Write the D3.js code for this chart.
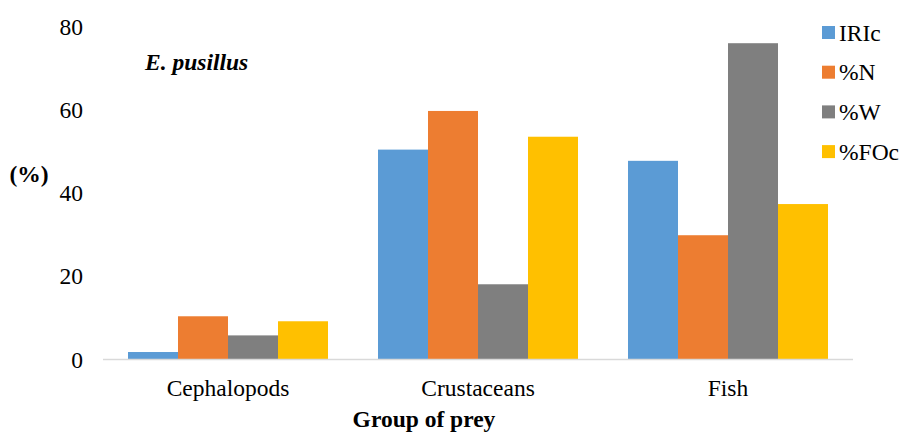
<!DOCTYPE html>
<html>
<head>
<meta charset="utf-8">
<script src="https://cdn.jsdelivr.net/npm/d3@7"></script>
<style>
  html, body { margin: 0; padding: 0; background: #fff; }
  svg { display: block; font-family: "Liberation Serif", "Times New Roman", serif; }
</style>
</head>
<body>
<svg id="chart" width="901" height="432"></svg>
<script>
// Diet composition of E. pusillus by prey group
const categories = ["Cephalopods", "Crustaceans", "Fish"];
const seriesNames = ["IRIc", "%N", "%W", "%FOc"];
const iric = [1.8, 50.5, 47.8];
const pctN = [10.4, 59.8, 29.9];
const pctW = [5.8, 18.1, 76.1];
const pctFOc = [9.2, 53.6, 37.4];
const yTicks = [0, 20, 40, 60, 80];

const seriesValues = [iric, pctN, pctW, pctFOc];
const colors = ["#5B9BD5", "#ED7D31", "#7F7F7F", "#FFC000"];

const svg = d3.select("#chart");
const margin = { left: 103, right: 48, top: 27, bottom: 72.5 };
const W = 901, H = 432;

const x0 = d3.scaleBand().domain(categories).range([margin.left, W - margin.right]).padding(0);
const x1 = d3.scaleBand().domain(seriesNames)
  .range([x0.bandwidth() * 0.1, x0.bandwidth() * 0.9]).padding(0);
const y = d3.scaleLinear().domain([0, 80]).range([H - margin.bottom, margin.top]);

// bars
const groups = svg.append("g").selectAll("g")
  .data(categories)
  .join("g")
  .attr("transform", d => `translate(${x0(d)},0)`);

groups.selectAll("rect")
  .data((c, ci) => seriesNames.map((s, si) => ({ s, si, v: seriesValues[si][ci] })))
  .join("rect")
  .attr("x", d => x1(d.s))
  .attr("width", x1.bandwidth())
  .attr("y", d => y(d.v))
  .attr("height", d => y(0) - y(d.v))
  .attr("fill", d => colors[d.si]);

// category axis baseline
svg.append("line")
  .attr("x1", x0.range()[0]).attr("x2", x0.range()[1])
  .attr("y1", y(0)).attr("y2", y(0))
  .attr("stroke", "#d9d9d9").attr("stroke-width", 1.5);

// y tick labels
const yAxis = d3.axisLeft(y).tickValues(yTicks).tickSize(0).tickPadding(0);
const yg = svg.append("g").attr("transform", `translate(83,0)`).call(yAxis);
yg.select(".domain").remove();
yg.selectAll("text")
  .attr("font-family", "Liberation Serif, Times New Roman, serif")
  .attr("font-size", 23.5).attr("fill", "#000");

// x tick labels
const xAxis = d3.axisBottom(x0).tickSize(0).tickPadding(0);
const xg = svg.append("g").attr("transform", `translate(0,${y(0)})`).call(xAxis);
xg.select(".domain").remove();
xg.selectAll("text")
  .attr("y", 20)
  .attr("font-family", "Liberation Serif, Times New Roman, serif")
  .attr("font-size", 23.5).attr("fill", "#000");

// axis titles
svg.append("text")
  .attr("x", 424).attr("y", 427)
  .attr("text-anchor", "middle")
  .attr("font-weight", "bold").attr("font-size", 23.5)
  .text("Group of prey");

svg.append("text")
  .attr("x", 29).attr("y", 182)
  .attr("text-anchor", "middle")
  .attr("font-weight", "bold").attr("font-size", 23.5)
  .text("(%)");

// species label
svg.append("text")
  .attr("x", 145).attr("y", 70)
  .attr("font-weight", "bold").attr("font-style", "italic").attr("font-size", 23.5)
  .text("E. pusillus");

// legend
const legend = svg.append("g").attr("transform", "translate(822,26)");
const li = legend.selectAll("g").data(seriesNames).join("g")
  .attr("transform", (d, i) => `translate(0,${i * 39.7})`);
li.append("rect").attr("width", 13).attr("height", 13).attr("fill", (d, i) => colors[i]);
li.append("text").attr("x", 17).attr("y", 14.5)
  .attr("font-size", 23.5).attr("fill", "#000")
  .text(d => d);
</script>
</body>
</html>
